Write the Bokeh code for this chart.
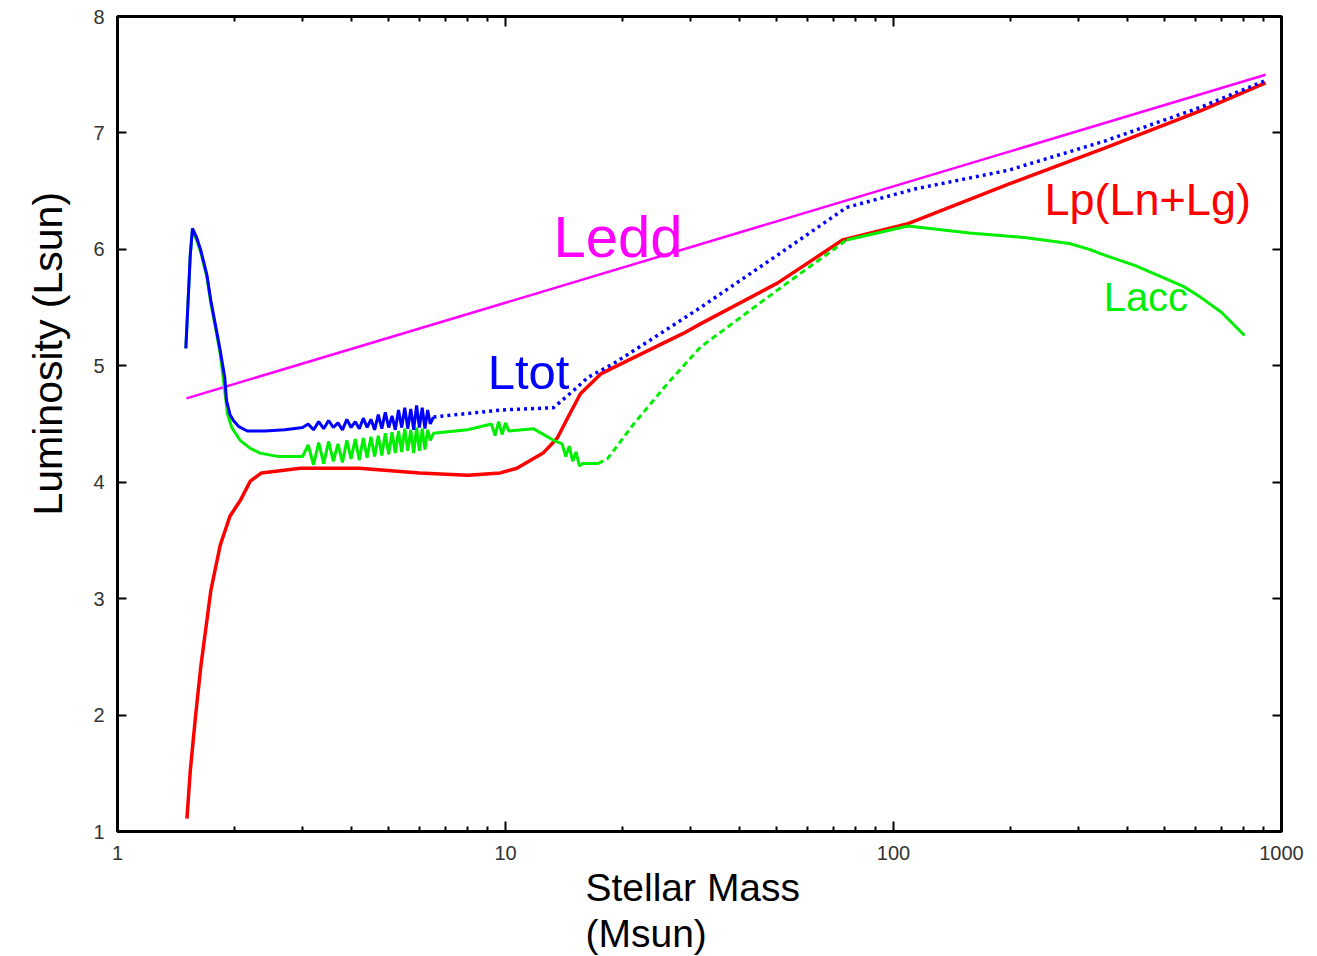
import numpy as np
from bokeh.plotting import figure
from bokeh.models import (Range1d, FixedTicker, LinearAxis, LogAxis, Label, Title,
                          BasicTickFormatter, LogScale)
from bokeh.embed import file_html
from bokeh.resources import INLINE

# ---------------- data ----------------
x_major = [1, 10, 100, 1000]
x_minor = [2, 3, 4, 5, 6, 7, 8, 9, 20, 30, 40, 50, 60, 70, 80, 90,
           200, 300, 400, 500, 600, 700, 800, 900]
y_ticks = [1, 2, 3, 4, 5, 6, 7, 8]

ledd_mass = [1.506, 910]
ledd_lum = [4.72, 7.50]

lp_mass = [1.51, 1.54, 1.59, 1.64, 1.74, 1.84, 1.95, 2.07, 2.20, 2.35, 2.96, 4.2, 6.0, 8.0,
           9.7, 10.7, 12.5, 13.6, 14.5, 15.6, 17.6, 21.4, 28.8, 31.8, 50.2, 73.9, 109,
           198, 350, 618, 910]
lp_lum = [1.11, 1.52, 2.00, 2.42, 3.07, 3.46, 3.71, 3.84, 4.01, 4.08, 4.12, 4.12, 4.08, 4.06,
          4.08, 4.12, 4.25, 4.38, 4.56, 4.76, 4.93, 5.07, 5.28, 5.36, 5.71, 6.08, 6.22,
          6.56, 6.87, 7.19, 7.43]

ltot_mass = [1.50, 1.52, 1.54, 1.56, 1.60, 1.64, 1.70, 1.74, 1.80, 1.84, 1.89, 1.91, 1.95,
             1.99, 2.05, 2.16, 2.40, 2.70,
             3.0, 3.1, 3.2, 3.3, 3.4, 3.5, 3.6, 3.7, 3.8, 3.9, 4.0, 4.1, 4.2, 4.3, 4.4, 4.5,
             4.6, 4.7, 4.8, 4.9, 5.0, 5.1, 5.2, 5.3, 5.4, 5.5, 5.6, 5.7, 5.8, 5.9, 6.0, 6.1,
             6.2, 6.3, 6.4, 6.52,
             7.98, 9.70, 13.3, 15.0, 16.3, 19.0, 24.1, 31.8, 50.2, 75.7, 114, 198, 350, 618, 910]
ltot_lum = [5.15, 5.55, 5.95, 6.18, 6.10, 5.99, 5.78, 5.56, 5.30, 5.13, 4.90, 4.70, 4.58,
            4.53, 4.48, 4.44, 4.44, 4.45,
            4.47, 4.50, 4.45, 4.52, 4.46, 4.53, 4.47, 4.51, 4.45, 4.54, 4.47, 4.52, 4.46, 4.55,
            4.47, 4.54, 4.45, 4.58, 4.46, 4.60, 4.47, 4.57, 4.45, 4.62, 4.47, 4.64, 4.46, 4.63,
            4.45, 4.66, 4.47, 4.64, 4.46, 4.62, 4.50, 4.56,
            4.59, 4.62, 4.64, 4.79, 4.90, 5.02, 5.24, 5.50, 5.95, 6.36, 6.52, 6.68, 6.93, 7.22, 7.45]

lacc_mass = [1.50, 1.52, 1.54, 1.56, 1.60, 1.64, 1.70, 1.74, 1.80, 1.84, 1.88, 1.92, 1.97,
             2.07, 2.20, 2.33, 2.60,
             3.0, 3.1, 3.2, 3.3, 3.4, 3.5, 3.6, 3.7, 3.8, 3.9, 4.0, 4.1, 4.2, 4.3, 4.4, 4.5,
             4.6, 4.7, 4.8, 4.9, 5.0, 5.1, 5.2, 5.3, 5.4, 5.5, 5.6, 5.7, 5.8, 5.9, 6.0, 6.1,
             6.2, 6.3, 6.4, 6.52,
             7.98, 9.2, 9.4, 9.6, 9.8, 10.0, 10.2, 11.8, 13.3, 14.0, 14.3, 14.6, 14.9, 15.2,
             15.5, 15.8, 17.3, 18.3, 21.4, 26.2, 31.8, 50.2, 75.7, 109, 157, 220, 284, 320,
             350, 420, 494, 560, 618, 700, 803]
lacc_lum = [5.15, 5.55, 5.95, 6.16, 6.08, 5.97, 5.76, 5.54, 5.28, 5.10, 4.85, 4.59, 4.47,
            4.36, 4.29, 4.25, 4.22,
            4.22, 4.32, 4.15, 4.34, 4.16, 4.35, 4.18, 4.33, 4.17, 4.36, 4.20, 4.37, 4.19, 4.38,
            4.21, 4.39, 4.22, 4.40, 4.23, 4.42, 4.24, 4.43, 4.25, 4.44, 4.26, 4.46, 4.27, 4.45,
            4.25, 4.47, 4.27, 4.46, 4.28, 4.45, 4.36, 4.42,
            4.45, 4.50, 4.40, 4.52, 4.41, 4.51, 4.44, 4.46, 4.36, 4.33, 4.22, 4.31, 4.18, 4.26,
            4.14, 4.16, 4.16, 4.20, 4.50, 4.85, 5.16, 5.65, 6.08, 6.20, 6.14, 6.10, 6.05, 6.00,
            5.95, 5.86, 5.76, 5.68, 5.59, 5.46, 5.26]

x_title = ["Stellar Mass", "(Msun)"]
y_title = "Luminosity (Lsun)"

# ---------------- figure ----------------
FONT = "Liberation Sans"
W, H = 1317, 956
p = figure(width=W, height=H, x_axis_type=None, y_axis_location=None,
           x_range=Range1d(1, 1000), y_range=Range1d(1, 8),
           output_backend="svg", toolbar_location=None)
p.x_scale = LogScale()
p.min_border_left = 117
p.min_border_right = 36
p.min_border_top = 16
p.min_border_bottom = 125
p.xgrid.visible = False
p.ygrid.visible = False
p.outline_line_color = "black"
p.outline_line_width = 3
p.background_fill_color = "white"
p.border_fill_color = "white"

xt = FixedTicker(ticks=x_major, minor_ticks=x_minor)
yt = FixedTicker(ticks=y_ticks)


def style_axis(ax, labels=True):
    ax.axis_line_color = None
    ax.major_tick_in = 10
    ax.major_tick_out = 0
    ax.minor_tick_in = 5
    ax.minor_tick_out = 0
    ax.major_tick_line_width = 2
    ax.minor_tick_line_width = 2
    ax.major_tick_line_color = "black"
    ax.minor_tick_line_color = "black"
    if labels:
        ax.major_label_text_font = FONT
        ax.major_label_text_font_size = "20px"
        ax.major_label_text_color = "#333333"
    else:
        ax.major_label_text_font_size = "1px"
        ax.major_label_text_alpha = 0
        ax.major_label_standoff = 0


bottom = LogAxis(ticker=xt, formatter=BasicTickFormatter(use_scientific=False))
style_axis(bottom)
bottom.major_label_standoff = 14
top = LogAxis(ticker=xt, formatter=BasicTickFormatter(use_scientific=False))
style_axis(top, labels=False)
left = LinearAxis(ticker=yt)
style_axis(left)
left.minor_tick_line_color = None
left.major_tick_in = 9
left.major_label_standoff = 13
right = LinearAxis(ticker=yt)
style_axis(right, labels=False)
right.minor_tick_line_color = None
right.major_tick_in = 9
p.add_layout(bottom, "below")
p.add_layout(top, "above")
p.add_layout(left, "left")
p.add_layout(right, "right")

# axis titles as side-panel titles
p.add_layout(Title(text=x_title[0], align="left", offset=468, standoff=2,
                   text_font=FONT, text_font_size="39px", text_font_style="normal",
                   text_color="black"), "below")
p.add_layout(Title(text=x_title[1], align="left", offset=468, standoff=0,
                   text_font=FONT, text_font_size="39px", text_font_style="normal",
                   text_color="black"), "below")
p.add_layout(Title(text=y_title, align="left", offset=316, standoff=40,
                   text_font=FONT, text_font_size="41px", text_font_style="normal",
                   text_color="black"), "left")

# ---------------- curves ----------------
p.line(ledd_mass, ledd_lum, line_color="#ff00ff", line_width=2.5)

p.line(lp_mass, lp_lum, line_color="#ff0000", line_width=3.5)

lm = np.array(lacc_mass); ll = np.array(lacc_lum)
seg1 = lm <= 17.3
seg2 = (lm >= 17.3) & (lm <= 75.7)
seg3 = lm >= 75.7
p.line(lm[seg1], ll[seg1], line_color="#00ee00", line_width=3)
p.line(lm[seg2], ll[seg2], line_color="#00ee00", line_width=3, line_dash="6 4")
p.line(lm[seg3], ll[seg3], line_color="#00ee00", line_width=3)

tm = np.array(ltot_mass); tl = np.array(ltot_lum)
s1 = tm <= 6.52
s2 = tm >= 6.52
p.line(tm[s1], tl[s1], line_color="#0000ff", line_width=3)
p.line(tm[s2], tl[s2], line_color="#0000ff", line_width=3.5, line_dash="3 4")

# ---------------- curve labels ----------------
def curve_label(x, y, text, color, size):
    p.add_layout(Label(x=x, y=y, text=text, text_color=color, text_font=FONT,
                       text_font_size=size, text_align="left", text_baseline="alphabetic"))

curve_label(13.3, 6.11, "Ledd", "#ff00ff", "58px")
curve_label(9.0, 4.95, "Ltot", "#0000ff", "49px")
curve_label(245, 6.43, "Lp(Ln+Lg)", "#ff0000", "45px")
curve_label(348, 5.59, "Lacc", "#00ee00", "40px")

open("out.html", "w").write(file_html(p, INLINE))
